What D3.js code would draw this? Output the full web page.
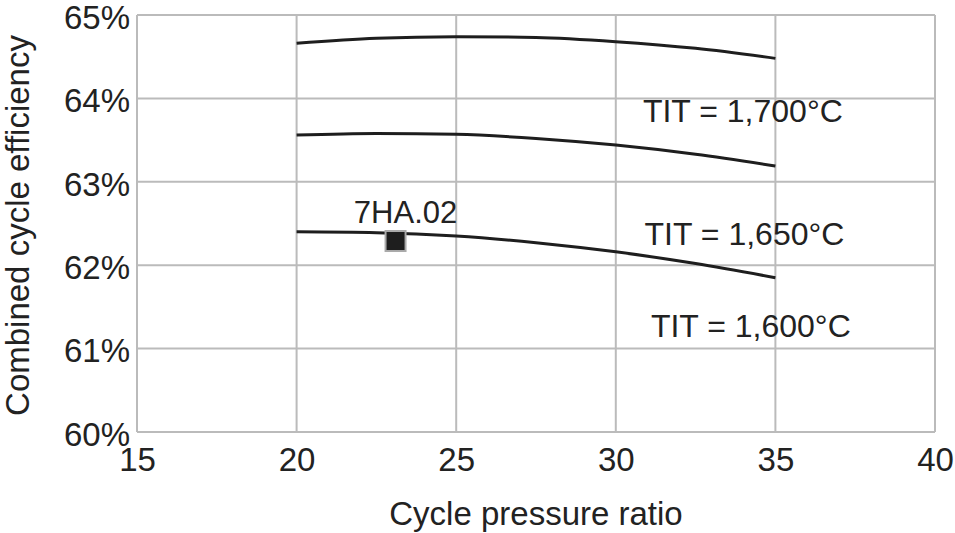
<!DOCTYPE html>
<html>
<head>
<meta charset="utf-8">
<script src="https://cdn.jsdelivr.net/npm/d3@7"></script>
<style>
  body { margin: 0; background: #fff; }
  text { font-family: "Liberation Sans", Arial, sans-serif; fill: #222; }
</style>
</head>
<body>
<svg id="chart" width="955" height="533"></svg>
<script>
// pressure ratio samples along each curve
var pressure = [20, 22.5, 25, 27.5, 30, 32.5, 35]
// combined cycle efficiency (%) per turbine inlet temperature
var eff1700 = [64.66, 64.72, 64.74, 64.73, 64.68, 64.6, 64.48]
var eff1650 = [63.56, 63.58, 63.57, 63.52, 63.44, 63.33, 63.19]
var eff1600 = [62.4, 62.39, 62.35, 62.27, 62.16, 62.02, 61.85]
var seriesNames = ["TIT = 1,700°C", "TIT = 1,650°C", "TIT = 1,600°C"]
// where the series labels sit (pressure ratio, efficiency %)
var labelX = [30.85, 30.9, 31.1]
var labelY = [63.72, 62.24, 61.14]
var xTicks = [15, 20, 25, 30, 35, 40]
var yTicks = [60, 61, 62, 63, 64, 65]
var pointName = "7HA.02"
var pointX = 23.1
var pointY = 62.29

var svg = d3.select("#chart")
var pLeft = 137, pRight = 935, pTop = 15, pBottom = 432

var x = d3.scaleLinear().domain([15, 40]).range([pLeft, pRight])
var y = d3.scaleLinear().domain([60, 65]).range([pBottom, pTop])

var grid = svg.append("g")
grid.selectAll("line.v").data(xTicks).enter().append("line")
	.attr("x1", d => x(d)).attr("x2", d => x(d))
	.attr("y1", pTop).attr("y2", pBottom)
	.attr("stroke", "#bbb").attr("stroke-width", 2)
grid.selectAll("line.h").data(yTicks).enter().append("line")
	.attr("x1", pLeft).attr("x2", pRight)
	.attr("y1", d => y(d)).attr("y2", d => y(d))
	.attr("stroke", "#bbb").attr("stroke-width", 2)

var xAxis = svg.append("g").attr("transform", "translate(0," + pBottom + ")")
	.call(d3.axisBottom(x).tickValues(xTicks).tickSize(0).tickPadding(16))
xAxis.select(".domain").remove()
xAxis.selectAll("text").attr("font-size", 33).attr("font-family", "Liberation Sans, Arial, sans-serif").attr("fill", "#222")

var yAxis = svg.append("g").attr("transform", "translate(" + pLeft + ",0)")
	.call(d3.axisLeft(y).tickValues(yTicks).tickSize(0).tickPadding(7)
		.tickFormat(d => d + "%"))
yAxis.select(".domain").remove()
yAxis.selectAll("text").attr("font-size", 33).attr("font-family", "Liberation Sans, Arial, sans-serif").attr("fill", "#222")
	.attr("dy", "0.4em")

var line = d3.line().curve(d3.curveMonotoneX)
	.x((d, i) => x(pressure[i])).y(d => y(d))

var allSeries = [eff1700, eff1650, eff1600]
svg.selectAll("path.curve").data(allSeries).enter().append("path")
	.attr("class", "curve")
	.attr("d", line)
	.attr("fill", "none").attr("stroke", "#1e1e1e").attr("stroke-width", 3)

svg.selectAll("text.series").data(seriesNames).enter().append("text")
	.attr("class", "series")
	.attr("x", (d, i) => x(labelX[i])).attr("y", (d, i) => y(labelY[i]))
	.attr("font-size", 32)
	.text(d => d)

svg.append("rect")
	.attr("x", x(pointX) - 10).attr("y", y(pointY) - 10)
	.attr("width", 20).attr("height", 20)
	.attr("fill", "#1e1e1e").attr("stroke", "#aaa").attr("stroke-width", 2)
svg.append("text")
	.attr("x", x(pointX) + 10).attr("y", y(pointY) - 18)
	.attr("text-anchor", "middle").attr("font-size", 31)
	.text(pointName)

svg.append("text")
	.attr("x", (pLeft + pRight) / 2).attr("y", 525)
	.attr("text-anchor", "middle").attr("font-size", 33)
	.text("Cycle pressure ratio")

svg.append("text")
	.attr("transform", "translate(29," + ((pTop + pBottom) / 2 + 2) + ") rotate(-90)")
	.attr("text-anchor", "middle").attr("font-size", 33)
	.text("Combined cycle efficiency")
</script>
</body>
</html>
